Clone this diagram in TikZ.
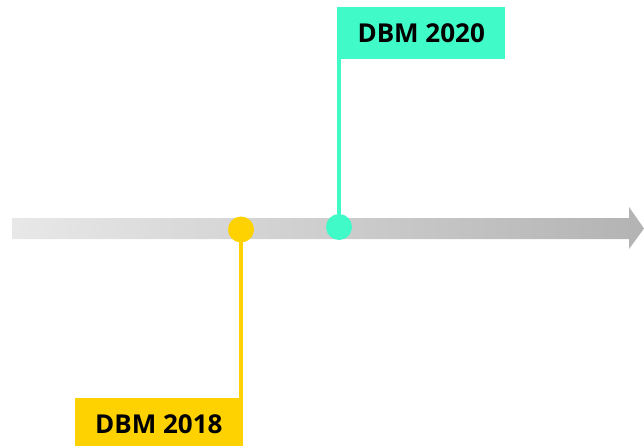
\documentclass[tikz,border=0pt]{standalone}
\usepackage{fontspec}
\setmainfont{Open Sans}
\usepackage{tikz}
\definecolor{sari}{HTML}{FDD200}
\definecolor{turkuaz}{HTML}{40FAC8}
\definecolor{acikGri}{HTML}{E8E8E8}
\definecolor{koyuGri}{HTML}{B3B3B3}

\begin{document}
\begin{tikzpicture}[x=1pt,y=1pt,
  etiket/.style={inner sep=0pt,minimum width=168pt,minimum height=52pt,
    font=\bfseries\fontsize{26}{30}\selectfont,text=black},
  nokta/.style={circle,inner sep=0pt,minimum size=26pt},
  bag/.style={line width=4pt}]
\useasboundingbox (0,0) rectangle (644,445);
% zaman ekseni
\shade[left color=acikGri,right color=koyuGri] (12,206)--(629,206)--(629,196)--(644,216.5)--(629,238)--(629,227)--(12,227)--cycle;
% 2018
\node[etiket,fill=sari,anchor=north east] (k2018) at (243,47) {DBM 2018};
\node[nokta,fill=sari] (n2018) at (241,215.5) {};
\draw[bag,sari] (n2018.center)--(n2018.center |- k2018.north);
% 2020
\node[etiket,fill=turkuaz,anchor=north west] (k2020) at (337,438) {DBM 2020};
\node[nokta,fill=turkuaz] (n2020) at (339,218) {};
\draw[bag,turkuaz] (n2020.center)--(n2020.center |- k2020.south);
\end{tikzpicture}
\end{document}
